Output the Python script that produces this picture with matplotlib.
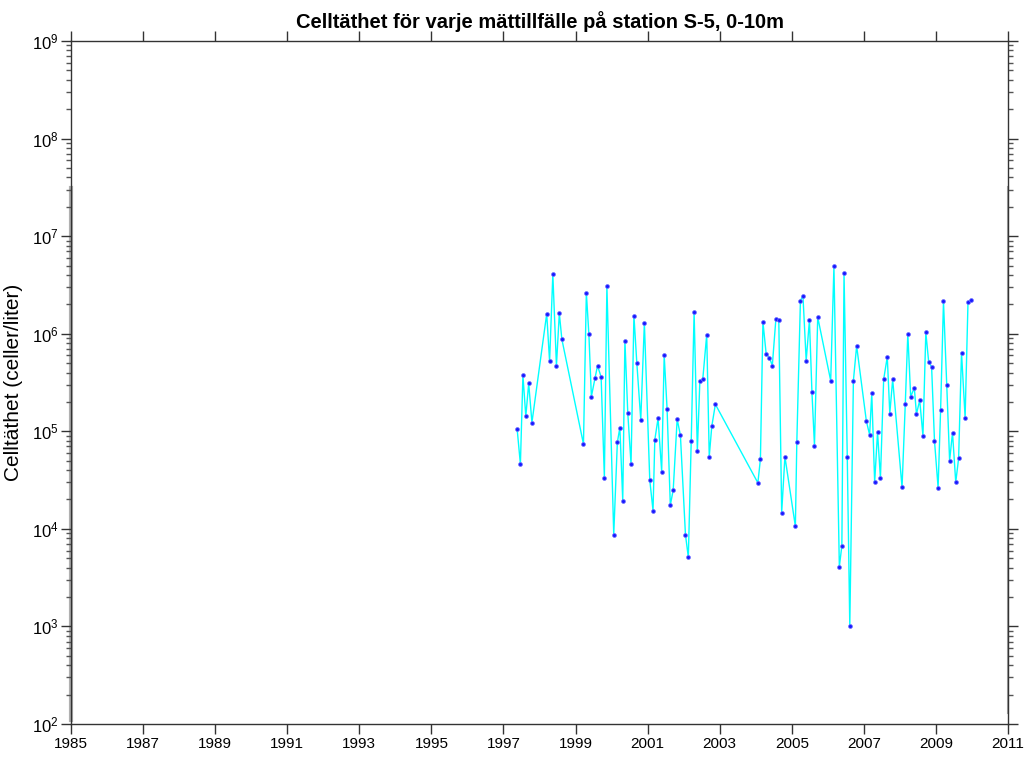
import matplotlib
matplotlib.use("Agg")
import matplotlib.pyplot as plt
from matplotlib.ticker import LogLocator, LogFormatterMathtext, FixedLocator, NullFormatter

plt.rcParams['font.family'] = ['Liberation Sans', 'DejaVu Sans']
plt.rcParams['mathtext.fontset'] = 'custom'
plt.rcParams['mathtext.rm'] = 'Liberation Sans'
plt.rcParams['mathtext.default'] = 'regular'

# decimal year of each sampling
years = [1997.38, 1997.47, 1997.54, 1997.62, 1997.70, 1997.79, 1998.20, 1998.28, 1998.37, 1998.47,
         1998.55, 1998.62, 1999.22, 1999.30, 1999.37, 1999.44, 1999.54, 1999.61, 1999.71, 1999.80,
         1999.87, 2000.06, 2000.16, 2000.23, 2000.31, 2000.37, 2000.45, 2000.54, 2000.62, 2000.70,
         2000.81, 2000.91, 2001.06, 2001.15, 2001.20, 2001.29, 2001.39, 2001.46, 2001.54, 2001.63,
         2001.71, 2001.82, 2001.91, 2002.05, 2002.13, 2002.21, 2002.29, 2002.38, 2002.45, 2002.53,
         2002.64, 2002.71, 2002.78, 2002.88, 2004.06, 2004.13, 2004.20, 2004.29, 2004.38, 2004.46,
         2004.56, 2004.64, 2004.72, 2004.81, 2005.10, 2005.14, 2005.24, 2005.31, 2005.40, 2005.49,
         2005.56, 2005.63, 2005.72, 2006.08, 2006.17, 2006.32, 2006.39, 2006.45, 2006.54, 2006.61,
         2006.71, 2006.80, 2007.07, 2007.16, 2007.22, 2007.30, 2007.38, 2007.46, 2007.55, 2007.65,
         2007.72, 2007.80, 2008.06, 2008.15, 2008.22, 2008.30, 2008.40, 2008.46, 2008.55, 2008.64,
         2008.72, 2008.80, 2008.88, 2008.96, 2009.06, 2009.13, 2009.21, 2009.30, 2009.38, 2009.46,
         2009.55, 2009.63, 2009.71, 2009.81, 2009.89, 2009.97]

# cell density (cells/liter)
cells = [1.05e5, 4.6e4, 3.76e5, 1.42e5, 3.1e5, 1.23e5, 1.6e6, 5.2e5, 4.07e6, 4.7e5,
         1.62e6, 8.8e5, 7.4e4, 2.64e6, 9.9e5, 2.27e5, 3.5e5, 4.7e5, 3.6e5, 3.36e4,
         3.07e6, 8.7e3, 7.7e4, 1.09e5, 1.95e4, 8.5e5, 1.53e5, 4.6e4, 1.53e6, 5.06e5,
         1.31e5, 1.29e6, 3.15e4, 1.54e4, 8.2e4, 1.36e5, 3.87e4, 6.0e5, 1.7e5, 1.75e4,
         2.5e4, 1.33e5, 9.1e4, 8.7e3, 5.1e3, 8.0e4, 1.66e6, 6.3e4, 3.28e5, 3.4e5,
         9.8e5, 5.5e4, 1.12e5, 1.89e5, 2.96e4, 5.2e4, 1.32e6, 6.2e5, 5.7e5, 4.7e5,
         1.43e6, 1.37e6, 1.47e4, 5.5e4, 1.06e4, 7.7e4, 2.18e6, 2.46e6, 5.3e5, 1.38e6,
         2.5e5, 7.1e4, 1.48e6, 3.3e5, 4.9e6, 4.1e3, 6.7e3, 4.2e6, 5.5e4, 1.0e3,
         3.3e5, 7.5e5, 1.27e5, 9.2e4, 2.45e5, 3.0e4, 9.8e4, 3.3e4, 3.4e5, 5.8e5,
         1.52e5, 3.4e5, 2.67e4, 1.92e5, 9.95e5, 2.25e5, 2.8e5, 1.5e5, 2.08e5, 9.0e4,
         1.03e6, 5.1e5, 4.6e5, 8.0e4, 2.65e4, 1.66e5, 2.15e6, 3.0e5, 5.0e4, 9.7e4,
         3.0e4, 5.3e4, 6.4e5, 1.38e5, 2.1e6, 2.2e6]

xticks = list(range(1985, 2012, 2))
title = "Celltäthet för varje mättillfälle på station S-5, 0-10m"
ylabel = "Celltäthet (celler/liter)"

fig = plt.figure(figsize=(10.29, 7.58), dpi=100)
ax = fig.add_axes([71/1029, 34/758, 937/1029, 683/758])

ax.plot(years, cells, color='#00ffff', lw=1.0, zorder=2)
ax.plot(years, cells, linestyle='none', marker='o', ms=2.8, mfc='#1a1aff', mec='#6f6fff', mew=0.5, zorder=3)

ax.set_yscale('log')
ax.set_ylim(1e2, 1e9)
ax.set_xlim(1985, 2011)
ax.xaxis.set_major_locator(FixedLocator(xticks))
ax.set_xticklabels([str(t) for t in xticks])
ax.yaxis.set_major_locator(LogLocator(base=10, numticks=20))
ax.yaxis.set_major_formatter(LogFormatterMathtext())
ax.yaxis.set_minor_locator(LogLocator(base=10, subs=range(2, 10), numticks=20))
ax.yaxis.set_minor_formatter(NullFormatter())

for s in ax.spines.values():
    s.set_color('#333333')
    s.set_linewidth(1.0)

ax.tick_params(axis='both', which='major', direction='out', length=7, width=1, color='#333333',
               labelsize=11, top=True, right=True, labelcolor='black')
ax.tick_params(axis='both', which='minor', direction='out', length=3.8, width=1, color='#555555',
               top=True, right=True)
ax.tick_params(axis='x', which='major', pad=2)
ax.tick_params(axis='y', which='major', pad=2, labelsize=12)

# grey overlay seen along lower parts of left and right frames
ax.plot([1985.0, 1985.0], [1.1e2, 3.1e7], color='#b0b0b0', lw=3, zorder=1, clip_on=False)
ax.plot([2011.0, 2011.0], [1.3e2, 3.2e7], color='#a8a8a8', lw=1.5, zorder=1, clip_on=False)

ax.set_title(title, fontsize=14.5, fontweight='bold', pad=9)
ax.set_ylabel(ylabel, fontsize=15, labelpad=6)
ax.xaxis.label.set_visible(False)

fig.savefig('out.png', dpi=100, facecolor='white')
